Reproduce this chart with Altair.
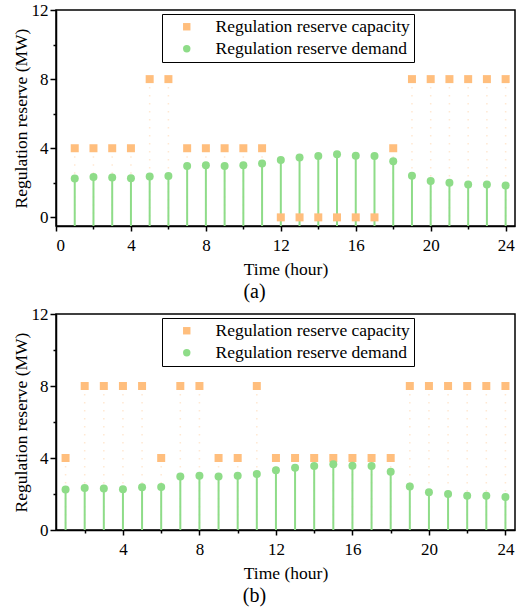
import altair as alt
import pandas as pd

hours = list(range(1, 25))
demand = [2.25, 2.33, 2.31, 2.27, 2.37, 2.39, 2.97, 3.01, 2.97, 3.01, 3.11, 3.32,
          3.46, 3.55, 3.65, 3.57, 3.55, 3.24, 2.41, 2.10, 2.00, 1.90, 1.90, 1.84]
capacity_a = [4, 4, 4, 4, 8, 8, 4, 4, 4, 4, 4, 0, 0, 0, 0, 0, 0, 4, 8, 8, 8, 8, 8, 8]
capacity_b = [4, 8, 8, 8, 8, 4, 8, 8, 4, 4, 8, 4, 4, 4, 4, 4, 4, 4, 8, 8, 8, 8, 8, 8]
series_names = ["Regulation reserve capacity", "Regulation reserve demand"]
x_label = "Time (hour)"
y_label = "Regulation reserve (MW)"
panel_titles = ["(a)", "(b)"]
x_ticks_a = [0, 2, 4, 6, 8, 10, 12, 14, 16, 18, 20, 22, 24]
x_ticks_b = [2, 4, 6, 8, 10, 12, 14, 16, 18, 20, 22, 24]
y_ticks = [0, 2, 4, 6, 8, 10, 12]

ORANGE = "#FFBE7D"
GREEN = "#8EDC88"
FONT = "Liberation Serif"
W, H = 459, 216


def panel(cap, xdom, ydom, xvals, title):
    df = pd.DataFrame({
        "hour": hours * 2,
        "value": cap + demand,
        "series": [series_names[0]] * len(hours) + [series_names[1]] * len(hours),
    })
    base = alt.Chart(df)
    x = alt.X("hour:Q", scale=alt.Scale(domain=xdom, nice=False, zero=False),
              axis=alt.Axis(values=xvals, title=x_label,
                            labelExpr="datum.value % 4 === 0 ? datum.label : ''",
                            tickSize={"condition": {"test": "datum.value % 4 === 0", "value": 5}, "value": 3},
                            labelPadding=6, titlePadding=7))
    y = alt.Y("value:Q", scale=alt.Scale(domain=ydom, nice=False, zero=False),
              axis=alt.Axis(values=y_ticks, title=y_label,
                            labelExpr="datum.value % 4 === 0 ? datum.label : ''",
                            tickSize={"condition": {"test": "datum.value % 4 === 0", "value": 6}, "value": 3},
                            labelPadding=2, titlePadding=1))
    cap_stems = base.transform_filter(alt.datum.series == series_names[0]).mark_rule(
        color=ORANGE, strokeWidth=1.5, strokeDash=[1.5, 6.5], opacity=0.35
    ).encode(x=x, y=y, y2=alt.value(H))
    dem_stems = base.transform_filter(alt.datum.series == series_names[1]).mark_rule(
        color=GREEN, strokeWidth=2
    ).encode(x=x, y=y, y2=alt.value(H))
    legend = alt.Legend(title=None, orient="none", legendX=106, legendY=4,
                        strokeColor="black", fillColor="white", padding=4,
                        labelFont=FONT, labelFontSize=17.5, labelColor="black",
                        labelLimit=400, symbolSize=55, symbolOffset=12, labelOffset=20,
                        rowPadding=3, symbolStrokeWidth=0)
    pts = base.mark_point(filled=True, size=64, opacity=1).encode(
        x=x, y=y,
        color=alt.Color("series:N", scale=alt.Scale(domain=series_names, range=[ORANGE, GREEN]), legend=legend),
        shape=alt.Shape("series:N", scale=alt.Scale(domain=series_names, range=["square", "circle"]), legend=legend),
    )
    return alt.layer(cap_stems, dem_stems, pts).properties(
        width=W, height=H,
        title=alt.TitleParams(title, orient="bottom", fontSize=20, font=FONT, fontWeight="normal",
                              color="black", offset=4, anchor="middle", frame="group", dx=-31),
    )


pa = panel(capacity_a, [0, 24.5], [-0.5, 12], x_ticks_a, panel_titles[0])
pb = panel(capacity_b, [0.5, 24.5], [0, 12], x_ticks_b, panel_titles[1])

chart = alt.vconcat(pa, pb, spacing=1).resolve_scale(
    x="independent", y="independent", color="independent", shape="independent"
).resolve_legend(color="independent", shape="independent").properties(
    padding={"left": 11, "top": 0, "right": 4, "bottom": 2}, background="white"
).configure_view(stroke="black", strokeWidth=1.5).configure_axis(
    grid=False, domainColor="black", domainWidth=1.5, tickColor="black", tickWidth=1.5,
    labelFont=FONT, labelFontSize=17, labelColor="black",
    titleFont=FONT, titleFontSize=17.5, titleFontWeight="normal", titleColor="black",
)

chart.save("out.html", embed_options={"renderer": "svg", "actions": False})
